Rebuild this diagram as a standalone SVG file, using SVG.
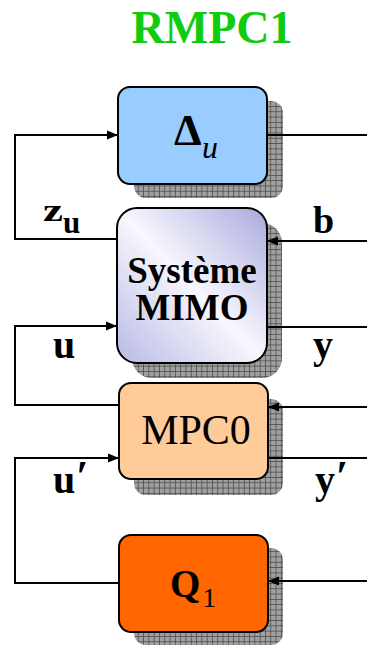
<svg xmlns="http://www.w3.org/2000/svg" width="367" height="645" viewBox="0 0 367 645">
  <style>
    .box { stroke: #000; stroke-width: 2; }
    .shadow { fill: url(#grid); }
    .wire { fill: none; stroke: #000; stroke-width: 2; }
    .arrow { marker-end: url(#head); }
    .lbl { font-family: "Liberation Serif", "Times New Roman", serif; font-weight: bold; fill: #000; }
    .reg { font-family: "Liberation Serif", "Times New Roman", serif; fill: #000; }
  </style>
  <defs>
    <pattern id="grid" patternUnits="userSpaceOnUse" width="5.3" height="5.3">
      <rect width="5.3" height="5.3" fill="#a0a0a0"/>
      <path d="M0 0.4 H5.3 M0.4 0 V5.3" stroke="#4a4a4a" stroke-width="0.8"/>
    </pattern>
    <linearGradient id="mimoFill" x1="1" y1="0" x2="0" y2="1">
      <stop offset="0" stop-color="#a9a9de"/>
      <stop offset="0.5" stop-color="#f7f7fd"/>
      <stop offset="1" stop-color="#b9b9e6"/>
    </linearGradient>
    <marker id="head" markerWidth="12" markerHeight="10" refX="11" refY="5" orient="auto" markerUnits="userSpaceOnUse">
      <path d="M0 0.5 L11 5 L0 9.5 Z" fill="#000"/>
    </marker>
  </defs>

  <!-- title -->
  <text x="212" y="43" text-anchor="middle" class="lbl" font-size="46" style="fill:#10cc10">RMPC1</text>

  <!-- node: uncertainty block -->
  <g id="delta">
    <rect class="shadow" x="134" y="101" width="149" height="97" rx="12"/>
    <rect class="box" x="118" y="87" width="149" height="97" rx="12" fill="#99ccff"/>
    <text x="174" y="145" class="lbl" font-size="44">Δ</text>
    <text x="202" y="158" class="reg" font-size="32" font-style="italic">u</text>
  </g>

  <!-- node: MIMO plant -->
  <g id="mimo">
    <rect class="shadow" x="132" y="223" width="150" height="155" rx="20"/>
    <rect class="box" x="117" y="208" width="150" height="155" rx="20" fill="url(#mimoFill)"/>
    <text x="192" y="283" text-anchor="middle" class="lbl" font-size="37">Système</text>
    <text x="192" y="320" text-anchor="middle" class="lbl" font-size="37">MIMO</text>
  </g>

  <!-- node: nominal controller -->
  <g id="mpc0">
    <rect class="shadow" x="134" y="399" width="149" height="96" rx="12"/>
    <rect class="box" x="119" y="383" width="149" height="96" rx="12" fill="#ffcc99"/>
    <text x="196" y="444" text-anchor="middle" class="reg" font-size="42">MPC0</text>
  </g>

  <!-- node: Youla parameter -->
  <g id="q1">
    <rect class="shadow" x="134" y="548" width="149" height="97" rx="12"/>
    <rect class="box" x="119" y="535" width="149" height="97" rx="12" fill="#ff6600"/>
    <text x="170" y="597" class="lbl" font-size="39">Q<tspan class="reg" font-weight="normal" font-size="28" dx="2" dy="10">1</tspan></text>
  </g>

  <!-- connectors -->
  <g id="connectors">
    <path class="wire" d="M267 135 H367"/>
    <path class="wire arrow" d="M117 239 H15 V135 H118"/>
    <path class="wire arrow" d="M367 241 H267"/>
    <path class="wire arrow" d="M119 405 H15 V326 H117"/>
    <path class="wire" d="M267 327 H367"/>
    <path class="wire arrow" d="M367 407 H268"/>
    <path class="wire arrow" d="M119 583 H15 V458 H119"/>
    <path class="wire" d="M268 458 H367"/>
    <path class="wire arrow" d="M367 581 H268"/>
  </g>

  <!-- signal labels -->
  <g id="labels">
    <text x="43" y="221" class="lbl" font-size="31" textLength="20" lengthAdjust="spacingAndGlyphs">z</text>
    <text x="63" y="233" class="lbl" font-size="31">u</text>
    <text x="313" y="233" class="lbl" font-size="38">b</text>
    <text x="53" y="358" class="lbl" font-size="40">u</text>
    <text x="313" y="358" class="lbl" font-size="40">y</text>
    <text x="53" y="493" class="lbl" font-size="40">u<tspan font-size="44" dx="1" dy="-2">′</tspan></text>
    <text x="315" y="493" class="lbl" font-size="40">y<tspan font-size="44" dx="1" dy="-2">′</tspan></text>
  </g>
</svg>
